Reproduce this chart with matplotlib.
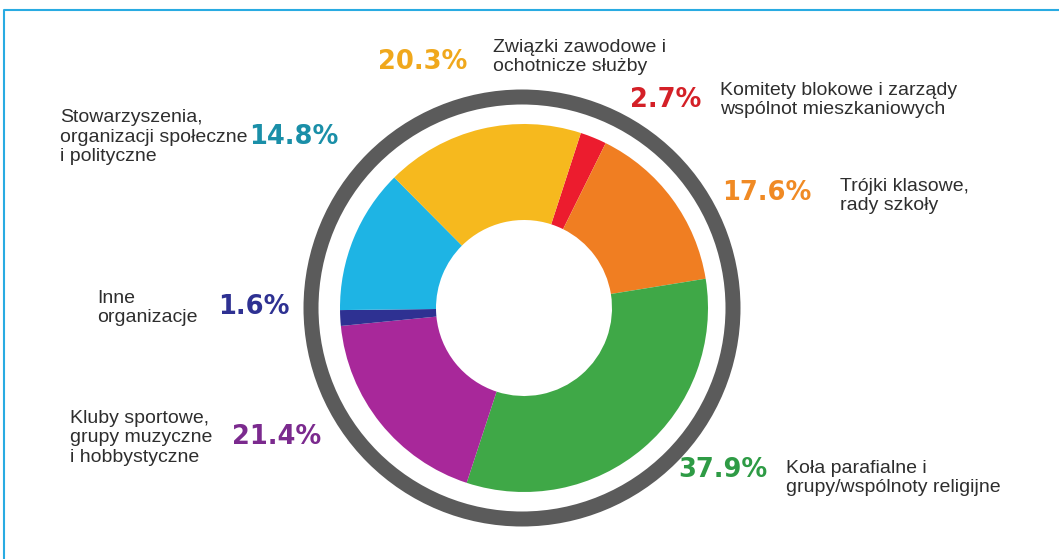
import matplotlib
matplotlib.use("Agg")
import matplotlib.pyplot as plt
from matplotlib.patches import Circle

# data (clockwise from the top, starting with the red slice)
labels = ["Komitety blokowe i zarządy\nwspólnot mieszkaniowych",
          "Trójki klasowe,\nrady szkoły",
          "Koła parafialne i\ngrupy/wspólnoty religijne",
          "Kluby sportowe,\ngrupy muzyczne\ni hobbystyczne",
          "Inne\norganizacje",
          "Stowarzyszenia,\norganizacji społeczne\ni polityczne",
          "Związki zawodowe i\nochotnicze służby"]
values = [2.7, 17.6, 37.9, 21.4, 1.6, 14.8, 20.3]
colors = ["#EC1C2E", "#F07E22", "#3FA847", "#A8289A", "#2E3192", "#1EB4E4", "#F6B91E"]
pct_colors = ["#D42027", "#F08A24", "#2E9B45", "#7B2A8E", "#2E3192", "#1A8FA8", "#F0A81C"]

W, H = 1059, 559
fig = plt.figure(figsize=(W / 100, H / 100), dpi=100)
ax = fig.add_axes([0, 0, 1, 1])

cx, cy = 524, H - 308
ax.pie(values, colors=colors, startangle=72, counterclock=False,
       center=(cx, cy), radius=184,
       wedgeprops=dict(width=96, edgecolor="none"))
ax.add_patch(Circle((cx - 2, cy), 211, fill=False, lw=10.8, edgecolor="#5B5B5B"))

ax.set_xlim(0, W)
ax.set_ylim(0, H)
ax.set_aspect("equal")
ax.axis("off")

# frame lines (top and left)
ax.plot([4, 4, W], [0, H - 10, H - 10], color="#29ABE2", lw=1.5, solid_capstyle="butt")

# label positions in pixels: (pct x, pct y) and (text x, text centre y)
pct_pos = [(630, 100), (722, 193), (678, 470), (232, 437), (218, 307), (249, 137), (378, 62)]
txt_pos = [(720, 100), (840, 196), (786, 478), (70, 438), (97, 308), (60, 137), (493, 57)]
heavy = [False, False, False, True, True, False, False]

for i in range(len(values)):
    px, py = pct_pos[i]
    ax.text(px, H - py, f"{values[i]}%", color=pct_colors[i], fontsize=18.5,
            fontweight="bold" if heavy[i] else "semibold", family="DejaVu Sans",
            ha="left", va="center")
    tx, ty = txt_pos[i]
    ax.text(tx, H - ty, labels[i], color="#2E2E2E", fontsize=14,
            family="Liberation Sans", ha="left", va="center", linespacing=1.22)

fig.savefig("out.png", dpi=100)
